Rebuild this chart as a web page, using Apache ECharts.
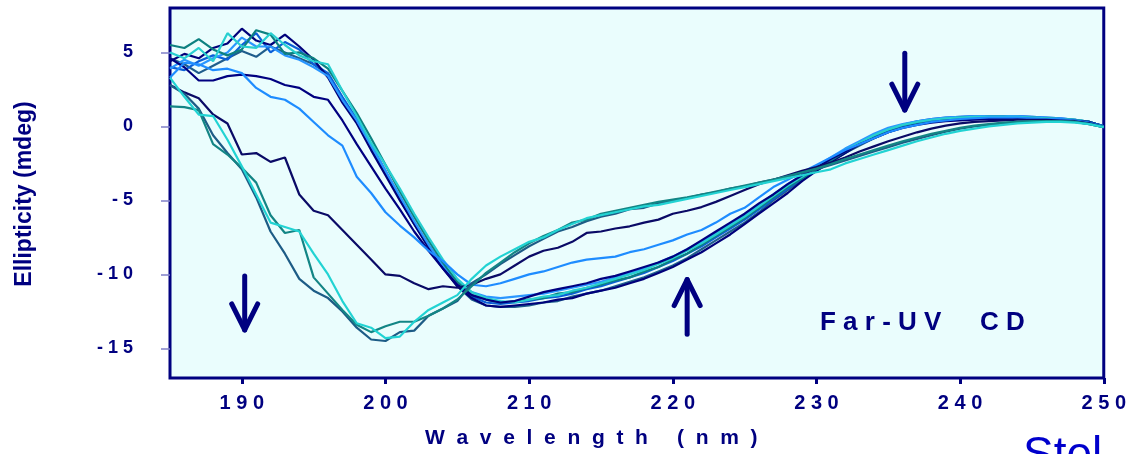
<!DOCTYPE html>
<html><head><meta charset="utf-8">
<script src="https://cdn.jsdelivr.net/npm/echarts@6/dist/echarts.min.js"></script>
<style>html,body{margin:0;padding:0;background:#fff}#c{width:1129px;height:454px}</style>
</head><body><div id="c"></div>
<script>
// Wavelength (nm)
const wavelengths = [185,186,187,188,189,190,191,192,193,194,195,196,197,198,199,200,201,202,203,204,205,206,207,208,209,210,211,212,213,214,215,216,217,218,219,220,221,222,223,224,225,226,227,228,229,230,231,232,233,234,235,236,237,238,239,240,241,242,243,244,245,246,247,248,249,250];
const xTickValues = [190,200,210,220,230,240,250];
const yTickValues = [-15,-10,-5,0,5];

// Ellipticity (mdeg) per spectrum
const gCyan = [3.3,2.0,0.8,0.7,-0.9,-2.7,-4.6,-6.5,-6.8,-7.1,
 -8.6,-10.0,-11.8,-13.3,-13.6,-14.3,-14.2,-13.2,-12.4,-11.9,
 -11.4,-10.3,-9.4,-8.8,-8.3,-7.8,-7.5,-7.0,-6.6,-6.2,
 -6.0,-5.8,-5.6,-5.4,-5.3,-5.1,-4.9,-4.7,-4.5,-4.3,
 -4.1,-3.9,-3.7,-3.5,-3.3,-3.1,-2.9,-2.5,-2.2,-1.9,
 -1.6,-1.3,-1.0,-0.75,-0.5,-0.3,-0.15,0.0,0.1,0.2,
 0.25,0.3,0.3,0.25,0.15,-0.05];
const gTeal = [1.35,1.3,1.1,-1.2,-1.9,-2.8,-3.8,-6.0,-7.2,-7.0,
 -10.2,-11.3,-12.4,-13.4,-13.9,-13.5,-13.2,-13.2,-12.8,-12.3,
 -11.7,-10.8,-9.9,-9.2,-8.5,-7.9,-7.4,-7.0,-6.5,-6.3,
 -5.9,-5.7,-5.5,-5.3,-5.1,-4.95,-4.8,-4.6,-4.4,-4.2,
 -4.0,-3.8,-3.6,-3.35,-3.1,-2.85,-2.55,-2.2,-1.9,-1.6,
 -1.3,-1.0,-0.75,-0.5,-0.3,-0.1,0.05,0.15,0.25,0.3,
 0.35,0.35,0.35,0.3,0.15,-0.05];
const gSteel = [2.8,2.2,1.2,-0.6,-1.8,-2.9,-4.8,-7.1,-8.6,-10.3,
 -11.1,-11.6,-12.5,-13.6,-14.4,-14.5,-13.9,-13.8,-12.8,-12.3,
 -11.8,-10.6,-10.0,-9.3,-8.7,-8.1,-7.6,-7.1,-6.8,-6.4,
 -6.1,-5.9,-5.6,-5.5,-5.2,-5.0,-4.85,-4.6,-4.45,-4.2,
 -4.05,-3.8,-3.6,-3.4,-3.15,-2.9,-2.6,-2.3,-2.0,-1.7,
 -1.4,-1.1,-0.85,-0.6,-0.35,-0.15,0.0,0.1,0.2,0.3,
 0.3,0.35,0.35,0.3,0.15,-0.05];
const navyA = [2.8,2.3,1.9,0.8,0.2,-1.9,-1.8,-2.4,-2.1,-4.6,
 -5.7,-6.0,-7.0,-8.0,-9.0,-10.0,-10.1,-10.6,-11.0,-10.8,
 -10.9,-10.7,-10.3,-10.0,-9.4,-8.8,-8.4,-8.2,-7.8,-7.2,
 -7.1,-6.9,-6.75,-6.5,-6.3,-5.9,-5.7,-5.45,-5.1,-4.7,
 -4.3,-3.9,-3.6,-3.3,-3.0,-2.75,-2.45,-2.1,-1.7,-1.35,
 -1.0,-0.7,-0.4,-0.15,0.05,0.2,0.3,0.35,0.4,0.45,
 0.45,0.45,0.4,0.35,0.2,-0.05];
const dodgerB = [3.3,4.3,4.2,3.8,3.9,3.6,2.6,2.0,1.8,1.2,
 0.3,-0.6,-1.3,-3.4,-4.5,-5.8,-6.7,-7.5,-8.4,-9.1,
 -10.0,-10.7,-10.8,-10.6,-10.3,-10.0,-9.8,-9.5,-9.2,-9.0,
 -8.9,-8.8,-8.5,-8.3,-8.0,-7.7,-7.3,-7.0,-6.5,-5.9,
 -5.5,-4.8,-4.1,-3.6,-3.1,-2.6,-2.1,-1.6,-1.2,-0.8,
 -0.4,-0.1,0.1,0.3,0.4,0.5,0.55,0.6,0.6,0.6,
 0.55,0.5,0.5,0.4,0.25,0.0];
const navyC = [4.6,4.0,3.1,3.1,3.4,3.5,3.4,3.2,2.8,2.6,
 2.0,1.8,0.4,-1.2,-2.7,-4.2,-5.6,-7.1,-8.4,-9.6,
 -10.7,-11.4,-11.7,-11.9,-11.8,-11.5,-11.2,-11.0,-10.8,-10.6,
 -10.3,-10.1,-9.8,-9.5,-9.2,-8.8,-8.3,-7.7,-7.1,-6.5,
 -5.9,-5.2,-4.6,-3.9,-3.3,-2.8,-2.2,-1.7,-1.2,-0.8,
 -0.4,-0.1,0.1,0.25,0.35,0.4,0.45,0.5,0.5,0.5,
 0.5,0.5,0.45,0.4,0.3,0.0];
const k1 = [4.4,4.9,4.6,5.3,5.6,6.6,5.8,5.5,6.2,5.4,
 4.5,3.3,1.6,0.2,-1.6,-3.3,-5.0,-6.6,-8.2,-9.6,
 -10.8,-11.6,-12.1,-12.2,-12.1,-12.0,-11.9,-11.7,-11.6,-11.3,
 -11.1,-10.9,-10.6,-10.3,-9.9,-9.5,-9.0,-8.5,-7.9,-7.3,
 -6.6,-5.9,-5.2,-4.5,-3.7,-3.0,-2.4,-1.8,-1.2,-0.7,
 -0.3,0.0,0.25,0.4,0.5,0.55,0.6,0.6,0.6,0.6,
 0.55,0.55,0.5,0.4,0.3,0.0];
const k2 = [5.5,5.3,5.9,5.2,4.8,5.2,6.5,6.2,4.9,5.0,
 4.6,3.9,2.4,0.9,-0.8,-2.6,-4.4,-6.1,-7.7,-9.2,
 -10.5,-11.4,-11.7,-11.9,-11.8,-11.7,-11.6,-11.3,-11.2,-10.9,
 -10.7,-10.4,-10.2,-9.8,-9.5,-9.0,-8.6,-8.0,-7.4,-6.8,
 -6.2,-5.5,-4.8,-4.1,-3.5,-2.9,-2.3,-1.7,-1.2,-0.7,
 -0.3,0.05,0.25,0.4,0.5,0.6,0.6,0.65,0.65,0.6,
 0.6,0.55,0.5,0.45,0.3,0.0];
const k3 = [5.0,4.6,5.3,4.4,6.3,5.4,5.3,6.3,5.5,4.8,
 4.4,4.2,2.4,0.7,-1.1,-2.6,-4.2,-5.9,-7.5,-9.0,
 -10.3,-11.2,-11.6,-11.8,-11.9,-11.7,-11.5,-11.4,-11.1,-10.9,
 -10.6,-10.3,-10.0,-9.7,-9.3,-8.9,-8.4,-7.9,-7.3,-6.7,
 -6.1,-5.4,-4.7,-4.0,-3.4,-2.8,-2.2,-1.6,-1.1,-0.6,
 -0.2,0.1,0.3,0.45,0.55,0.6,0.65,0.65,0.65,0.65,
 0.6,0.55,0.5,0.45,0.3,0.0];
const k4 = [4.0,3.8,4.4,4.8,4.5,5.5,6.3,5.0,5.7,5.2,
 4.2,3.6,2.0,0.5,-1.2,-3.0,-4.8,-6.5,-8.0,-9.5,
 -10.7,-11.5,-11.9,-12.0,-11.9,-11.8,-11.6,-11.5,-11.3,-11.0,
 -10.8,-10.5,-10.2,-9.9,-9.5,-9.1,-8.6,-8.1,-7.5,-6.9,
 -6.3,-5.6,-4.9,-4.2,-3.5,-2.9,-2.3,-1.7,-1.1,-0.6,
 -0.2,0.1,0.35,0.5,0.6,0.65,0.7,0.7,0.7,0.7,
 0.65,0.6,0.55,0.45,0.3,0.0];
const k5 = [4.6,4.2,3.6,4.1,4.6,5.1,4.7,5.4,5.0,4.6,
 4.2,3.5,1.9,0.3,-1.4,-3.1,-4.9,-6.6,-8.1,-9.5,
 -10.8,-11.7,-12.1,-12.2,-12.2,-12.1,-11.9,-11.8,-11.5,-11.3,
 -11.1,-10.8,-10.5,-10.2,-9.8,-9.4,-8.9,-8.3,-7.7,-7.1,
 -6.5,-5.8,-5.0,-4.3,-3.6,-3.0,-2.4,-1.8,-1.3,-0.8,
 -0.4,-0.05,0.2,0.35,0.45,0.5,0.55,0.6,0.6,0.6,
 0.55,0.5,0.5,0.4,0.3,0.0];
const k6 = [3.9,4.5,4.1,4.6,5.0,6.0,5.4,5.4,4.8,4.5,
 4.0,3.4,1.8,0.4,-1.3,-3.0,-4.7,-6.4,-8.0,-9.4,
 -10.5,-11.2,-11.5,-11.6,-11.5,-11.4,-11.3,-11.1,-10.9,-10.7,
 -10.5,-10.2,-9.9,-9.6,-9.2,-8.8,-8.3,-7.8,-7.2,-6.6,
 -6.0,-5.3,-4.6,-3.9,-3.3,-2.7,-2.1,-1.5,-1.0,-0.5,
 -0.1,0.15,0.35,0.5,0.6,0.65,0.7,0.7,0.7,0.7,
 0.65,0.6,0.55,0.45,0.3,0.0];

const curves = [k5, k4, k1, k6, k2, k3, navyC, dodgerB, navyA, gSteel, gTeal, gCyan];
const curveColors = ['#1f5d8c','#0a5fd8','#00007a','#2a96ff','#0d8080','#28cfd0','#000080','#1e8cff','#0a0a66','#1d5c86','#138585','#22d3d3'];

// Annotation arrows in data units: x, tail value, tip value
const arrowX = [190.2, 221.0, 236.15];
const arrowTail = [-10.1, -14.05, 4.95];
const arrowTip = [-13.75, -10.35, 1.1];

const NAVY = '#000080';
const FONT = 'Liberation Sans, Arial, sans-serif';
const spaced = v => String(v).split('').join(' ');

const chart = echarts.init(document.getElementById('c'), null, {renderer: 'canvas'});
const series = curves.map((vals, i) => ({
  type: 'line',
  data: wavelengths.map((w, j) => [w, vals[j]]),
  showSymbol: false,
  symbol: 'none',
  lineStyle: {color: curveColors[i], width: 2.2},
  z: 3,
  silent: true
}));

chart.setOption({
  animation: false,
  backgroundColor: '#ffffff',
  grid: {left: 170, right: 20, top: 8, bottom: 76, show: true,
         backgroundColor: '#eafdfd', borderColor: NAVY, borderWidth: 3},
  xAxis: {
    type: 'value', min: 185, max: 250,
    axisLine: {show: false, onZero: false},
    splitLine: {show: false},
    axisTick: {show: true, length: 6, lineStyle: {color: NAVY, width: 3}, customValues: xTickValues},
    axisLabel: {customValues: xTickValues, formatter: v => spaced(v), color: NAVY,
                fontFamily: FONT, fontWeight: 'bold', fontSize: 20, margin: 15}
  },
  yAxis: {
    type: 'value', min: -17, max: 8,
    axisLine: {show: false, onZero: false},
    splitLine: {show: false},
    axisTick: {show: true, length: 9, lineStyle: {color: '#8080c8', width: 1.5}, customValues: yTickValues},
    axisLabel: {customValues: yTickValues, formatter: v => spaced(v), color: NAVY,
                fontFamily: FONT, fontWeight: 'bold', fontSize: 18, margin: 37}
  },
  series: series
});

// Texts and arrows (arrows placed through the grid's coordinate conversion)
const graphics = [
  {type: 'text', x: 25, y: 194, rotation: Math.PI / 2,
   style: {text: 'Ellipticity (mdeg)', fill: NAVY, fontFamily: FONT, fontWeight: 'bold', fontSize: 23, align: 'center', verticalAlign: 'middle'}},
  {type: 'text', x: 425, y: 438,
   style: {text: 'W  a  v  e  l  e  n  g  t  h     (  n  m  )', fill: NAVY, fontFamily: FONT, fontWeight: 'bold', fontSize: 21, align: 'left', verticalAlign: 'middle'}},
  {type: 'text', x: 820, y: 323, z: 10,
   style: {text: 'F a r - U V', fill: NAVY, fontFamily: FONT, fontWeight: 'bold', fontSize: 26, align: 'left', verticalAlign: 'middle'}},
  {type: 'text', x: 980, y: 323, z: 10,
   style: {text: 'C D', fill: NAVY, fontFamily: FONT, fontWeight: 'bold', fontSize: 26, align: 'left', verticalAlign: 'middle'}},
  {type: 'text', x: 1023, y: 433,
   style: {text: 'Stel', fill: '#0000cc', fontFamily: FONT, fontSize: 46, align: 'left', verticalAlign: 'top'}}
];
arrowX.forEach((x, i) => {
  const p1 = chart.convertToPixel({gridIndex: 0}, [x, arrowTail[i]]);
  const p2 = chart.convertToPixel({gridIndex: 0}, [x, arrowTip[i]]);
  const dir = p2[1] > p1[1] ? 1 : -1;
  const st = {stroke: NAVY, lineWidth: 5, lineCap: 'round', lineJoin: 'round', fill: null};
  graphics.push({type: 'polyline', z: 10, shape: {points: [p1, p2]}, style: st});
  graphics.push({type: 'polyline', z: 10, shape: {points: [[p2[0] - 13, p2[1] - dir * 26], p2, [p2[0] + 13, p2[1] - dir * 26]]}, style: st});
});
chart.setOption({graphic: graphics});
</script>
</body></html>
